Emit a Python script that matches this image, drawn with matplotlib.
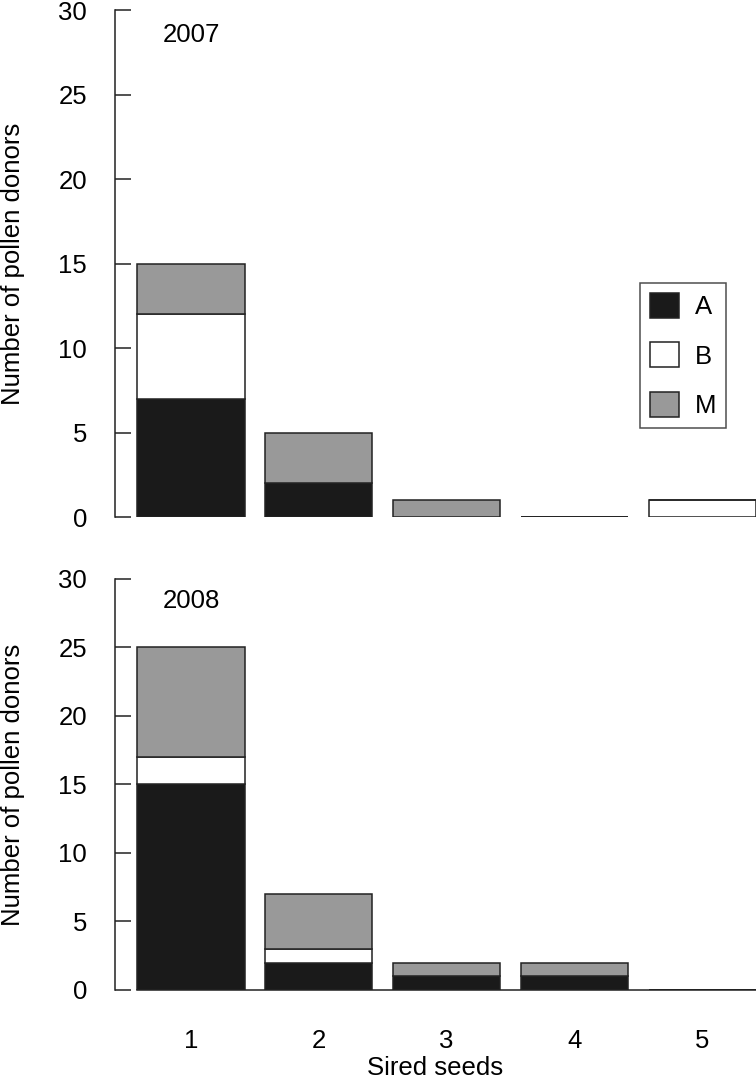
import numpy as np
import matplotlib.pyplot as plt

plt.rcParams['font.family'] = ['Liberation Sans', 'DejaVu Sans']

seeds = [1, 2, 3, 4, 5]
groups = ['A', 'B', 'M']
colors = {'A': '#1a1a1a', 'B': '#ffffff', 'M': '#999999'}

# counts of pollen donors per sired-seed class
y2007 = {'A': [7, 2, 0, 0, 0],
         'B': [5, 0, 0, 0, 1],
         'M': [3, 3, 1, 0, 0]}
y2008 = {'A': [15, 2, 1, 1, 0],
         'B': [2, 1, 0, 0, 0],
         'M': [8, 4, 1, 1, 0]}
years = ['2007', '2008']

fs = 18.5
fig = plt.figure(figsize=(7.56, 10.79), dpi=100)
ax1 = fig.add_axes([0.152, 0.5208, 0.848, 0.4699])
ax2 = fig.add_axes([0.152, 0.0825, 0.848, 0.3809])

width = 0.84
x = np.array(seeds)

def draw_panel(ax, data, year):
    bottom = np.zeros(len(seeds))
    for g in groups:
        vals = np.array(data[g], dtype=float)
        ax.bar(x, vals, width, bottom=bottom, color=colors[g],
               edgecolor='#222222', linewidth=1.1, label=g, zorder=2)
        bottom += vals
    ax.set_xlim(0.405, 5.42)
    ax.set_ylim(0, 30)
    ax.set_yticks([0, 5, 10, 15, 20, 25, 30])
    for s in ['top', 'right', 'bottom']:
        ax.spines[s].set_visible(False)
    ax.spines['left'].set_linewidth(1.1)
    ax.spines['left'].set_color('#222222')
    ax.tick_params(axis='y', direction='in', length=11.5, width=1.1,
                   color='#222222', pad=20, labelsize=fs)
    ax.set_ylabel('Number of pollen donors', fontsize=fs)
    ax.yaxis.set_label_coords(-0.14, 0.5)
    ax.text(0.075, 0.975, year, transform=ax.transAxes, fontsize=fs,
            ha='left', va='top')

draw_panel(ax1, y2007, years[0])
draw_panel(ax2, y2008, years[1])

ax1.set_xticks([])
ax2.set_xticks(seeds)
ax2.tick_params(axis='x', length=0, pad=28, labelsize=fs)
ax2.set_xlabel('Sired seeds', fontsize=fs, va='baseline')
ax2.xaxis.set_label_coords(0.5, -0.206)
# baseline in the lower panel
ax2.plot([x[0] - width / 2, 5.42], [0, 0], color='#222222', lw=1.1,
         zorder=3, clip_on=False)

leg = ax1.legend(loc='upper left', bbox_to_anchor=(0.819, 0.4615),
                 borderaxespad=0, fontsize=fs, frameon=True, fancybox=False,
                 edgecolor='#222222', handlelength=1.13, handleheight=1.13,
                 labelspacing=0.9, handletextpad=0.62, borderpad=0.38)
leg.get_frame().set_linewidth(1.1)

fig.savefig('out.png', dpi=100)
